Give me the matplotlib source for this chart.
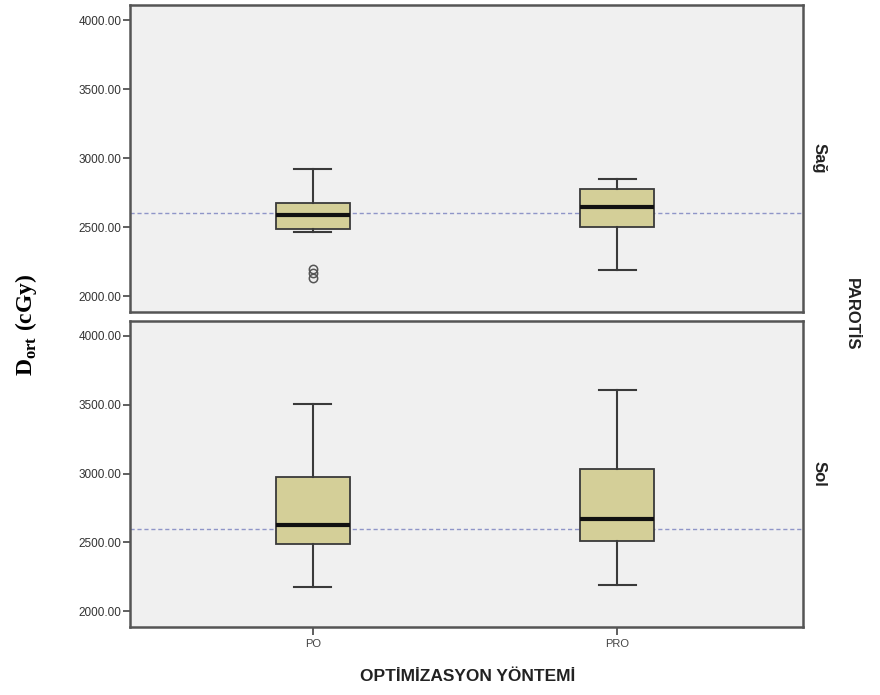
import matplotlib
matplotlib.use("Agg")
import matplotlib.pyplot as plt

# methods on x axis, one panel per parotid side
methods = ["PO", "PRO"]
sides = ["Sağ", "Sol"]

# box summaries (cGy), [PO, PRO] for each side
whis_hi = {"Sağ": [2920, 2852], "Sol": [3504, 3608]}
q3 = {"Sağ": [2675, 2775], "Sol": [2976, 3034]}
median = {"Sağ": [2588, 2648], "Sol": [2626, 2667]}
q1 = {"Sağ": [2488, 2500], "Sol": [2486, 2507]}
whis_lo = {"Sağ": [2464, 2188], "Sol": [2177, 2193]}
outliers = {"Sağ": [[2200, 2165, 2130], []], "Sol": [[], []]}

ref_dose = 2600
yticks = [2000, 2500, 3000, 3500, 4000]

plt.rcParams['font.family'] = ['Liberation Sans', 'DejaVu Sans']
plt.rcParams['mathtext.fontset'] = 'custom'
plt.rcParams['mathtext.rm'] = 'Liberation Serif'
plt.rcParams['mathtext.bf'] = 'Liberation Serif:bold'

fig = plt.figure(figsize=(8.8, 6.95), dpi=100)
axes = [fig.add_axes([0.1477, 0.5515, 0.765, 0.4413]),
        fig.add_axes([0.1477, 0.0983, 0.765, 0.4403])]

for ax, side in zip(axes, sides):
    stats = []
    for i, m in enumerate(methods):
        stats.append({"label": m, "med": median[side][i], "q1": q1[side][i],
                      "q3": q3[side][i], "whislo": whis_lo[side][i],
                      "whishi": whis_hi[side][i], "fliers": outliers[side][i]})
    ax.set_facecolor("#f0f0f0")
    ax.axhline(ref_dose, color="#8f95c8", lw=1.0, ls=(0, (3, 2)), zorder=1)
    ax.bxp(stats, positions=[1, 2], widths=0.243, capwidths=0.122,
           patch_artist=True, showfliers=True,
           boxprops=dict(facecolor="#d4cf98", edgecolor="#3a3a3a", lw=1.3),
           medianprops=dict(color="#111111", lw=3),
           whiskerprops=dict(color="#3a3a3a", lw=1.5),
           capprops=dict(color="#3a3a3a", lw=1.5),
           flierprops=dict(marker="o", mfc="none", mec="#555555", ms=6, mew=1.1),
           zorder=2)
    ax.set_xlim(0.40, 2.61)
    ax.set_ylim(1888, 4110)
    ax.set_yticks(yticks)
    ax.set_yticklabels(["%.2f" % v for v in yticks], fontsize=8.5, color="#333333")
    ax.tick_params(axis="y", direction="out", length=5, width=1.2, color="#444444", pad=1)
    for sp in ax.spines.values():
        sp.set_color("#555555")
        sp.set_linewidth(1.8)
    ax.text(1.012, 0.5, side, transform=ax.transAxes, rotation=-90,
            ha="left", va="center", fontsize=12, fontweight="bold", color="#222222")

axes[0].set_xticks([])
axes[1].set_xticks([1, 2])
axes[1].set_xticklabels(methods, fontsize=8, color="#444444")
axes[1].tick_params(axis="x", direction="out", length=6, width=1.2, color="#444444", pad=3)

fig.text(0.531, 0.026, "OPTİMİZASYON YÖNTEMİ", ha="center", va="center",
         fontsize=12.5, fontweight="bold", color="#222222")
fig.text(0.968, 0.548, "PAROTİS", rotation=-90, ha="center", va="center",
         fontsize=12, fontweight="bold", color="#222222")
fig.text(0.030, 0.532, r"D$_{\mathbf{ort}}$ (cGy)", rotation=90, ha="center", va="center",
         fontsize=17, fontweight="bold", family=["Liberation Serif", "DejaVu Serif"])

fig.savefig("out.png", dpi=100, facecolor="white")
